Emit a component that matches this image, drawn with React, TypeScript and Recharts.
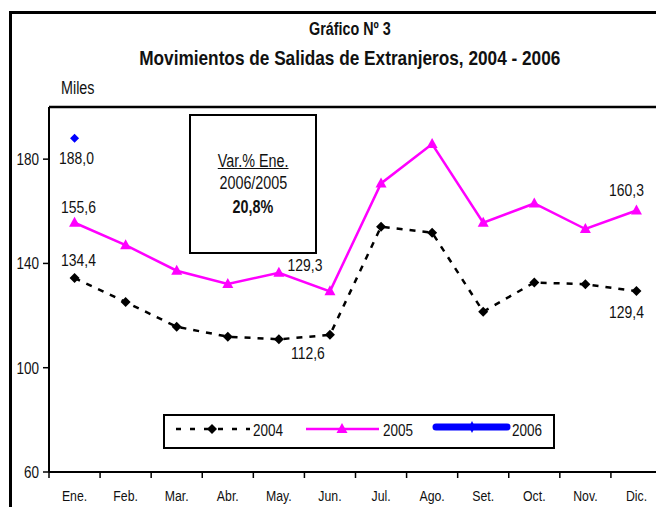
import React from 'react'
import { LineChart, Line, XAxis, YAxis, ReferenceLine } from 'recharts'

// Meses y valores (miles de salidas)
const months = ['Ene.', 'Feb.', 'Mar.', 'Abr.', 'May.', 'Jun.', 'Jul.', 'Ago.', 'Set.', 'Oct.', 'Nov.', 'Dic.']
const values2004 = [134.4, 125.2, 115.7, 111.9, 110.9, 112.6, 154.1, 151.8, 121.5, 132.7, 132.0, 129.4]
const values2005 = [155.6, 147.0, 137.2, 132.1, 136.4, 129.3, 170.7, 185.8, 155.6, 163.0, 153.2, 160.3]
const values2006 = [188.0, null, null, null, null, null, null, null, null, null, null, null]
const yTicks = [60, 100, 140, 180]

// Arial Narrow no está instalada: Liberation Sans comprimida en horizontal
const FONT = "'Liberation Sans', Arial, sans-serif"
const NARROW = 0.82

const data = months.map((m, i) => ({
  month: m,
  '2004': values2004[i],
  '2005': values2005[i],
  '2006': values2006[i],
}))

// desplazamiento de las etiquetas de datos (solo algunos puntos van rotulados)
const labelOffsets: Record<string, Record<number, [number, number]>> = {
  '2004': { 0: [4, -18], 5: [-22, 18], 11: [-10, 21] },
  '2005': { 0: [4, -16], 5: [-25, -26], 11: [-10, -21] },
  '2006': { 0: [2, 20] },
}

const fmt = (v: number) => v.toFixed(1).replace('.', ',')

const NText = ({ x, y, size, anchor = 'middle', bold = false, children }: any) => (
  <text transform={`translate(${x},${y}) scale(${NARROW},1)`} textAnchor={anchor} dy="0.355em"
    fontFamily={FONT} fontSize={size} fontWeight={bold ? 'bold' : 'normal'} fill="#111">
    {children}
  </text>
)

const makeLabel = (key: string) => (props: any) => {
  const off = labelOffsets[key][props.index]
  if (!off || props.value == null) return null
  return (
    <g key={`${key}-l-${props.index}`}>
      <NText x={props.x + off[0]} y={props.y + off[1]} size={17}>{fmt(props.value)}</NText>
    </g>
  )
}

const diamond = (color: string, r: number) => (props: any) => {
  const { cx, cy, index } = props
  if (cx == null || cy == null || props.value == null) return <g key={`d-${color}-${index}`} />
  return <path key={`d-${color}-${index}`} d={`M${cx},${cy - r}L${cx + r},${cy}L${cx},${cy + r}L${cx - r},${cy}Z`} fill={color} />
}

const triangle = (props: any) => {
  const { cx, cy, index } = props
  if (cx == null || cy == null) return <g key={`t-${index}`} />
  return <path key={`t-${index}`} d={`M${cx},${cy - 6}L${cx + 5.5},${cy + 4}L${cx - 5.5},${cy + 4}Z`} fill="#FF00FF" />
}

// ticks del eje X en los límites de cada mes, rótulo al centro
const MonthTick = (props: any) => {
  const { x, y, payload, index } = props
  const half = payload?.offset || 25.5
  return (
    <g>
      <line x1={x - half} x2={x - half} y1={y} y2={y + 6} stroke="#000" strokeWidth={1.5} />
      {index === months.length - 1 && <line x1={x + half} x2={x + half} y1={y} y2={y + 6} stroke="#000" strokeWidth={1.5} />}
      <NText x={x} y={y + 24} size={15}>{payload.value}</NText>
    </g>
  )
}

const ValueTick = (props: any) => (
  <NText x={props.x} y={props.y} size={16.5} anchor="end">{props.payload.value}</NText>
)

// leyenda en recuadro, coordenadas relativas al recuadro
const LegendBox = () => (
  <svg width={392} height={35} style={{ position: 'absolute', left: 163, top: 414 }}>
    <rect x={1} y={1} width={390} height={33} fill="#fff" stroke="#000" strokeWidth={2} />
    <line x1={13} x2={87} y1={15} y2={15} stroke="#000" strokeWidth={2.5} strokeDasharray="5 9" />
    <path d="M49,10L54,15L49,20L44,15Z" fill="#000" />
    <NText x={90} y={16} size={16.5} anchor="start">2004</NText>
    <line x1={143} x2={216} y1={15} y2={15} stroke="#FF00FF" strokeWidth={2.5} />
    <path d="M179,9L184.5,19L173.5,19Z" fill="#FF00FF" />
    <NText x={220} y={16} size={16.5} anchor="start">2005</NText>
    <line x1={273} x2={344} y1={13} y2={13} stroke="#0000FF" strokeWidth={7} strokeLinecap="round" />
    <path d="M309,7L312,13L309,19L306,13Z" fill="#0000FF" />
    <NText x={349} y={16} size={16.5} anchor="start">2006</NText>
  </svg>
)

const hText = (text: string, top: number, size: number, bold: boolean, left?: number) => (
  <div style={{ position: 'absolute', left: left ?? 0, width: left == null ? 700 : undefined, top, textAlign: left == null ? 'center' : 'left',
    fontFamily: FONT, fontWeight: bold ? 'bold' : 'normal', fontSize: size, lineHeight: `${size}px`, color: '#111', whiteSpace: 'nowrap' }}>
    <span style={{ display: 'inline-block', transform: `scaleX(${NARROW})`, transformOrigin: left == null ? 'center' : 'left' }}>{text}</span>
  </div>
)

export default function App() {
  return (
    <div style={{ position: 'absolute', left: 0, top: 0, width: 656, height: 507, overflow: 'hidden', background: '#fff' }}>
      {/* marco exterior */}
      <div style={{ position: 'absolute', left: 9, top: 11, width: 680, height: 520, border: '3px solid #000' }} />

      {hText('Gráfico Nº 3', 21, 17.5, true)}
      {hText('Movimientos de Salidas de Extranjeros, 2004 - 2006', 47, 21, true)}
      {hText('Miles', 80, 17.5, false, 61)}

      <div style={{ position: 'absolute', left: 0, top: 0 }}>
        <LineChart width={700} height={507} data={data} margin={{ top: 107, right: 38, bottom: 0, left: 9 }}>
          <XAxis dataKey="month" scale="band" axisLine={{ stroke: '#000', strokeWidth: 2 }} tickLine={false} tickSize={0} tickMargin={0}
            interval={0} height={35} tick={<MonthTick />} />
          <YAxis domain={[60, 200]} ticks={yTicks} width={40} axisLine={{ stroke: '#000', strokeWidth: 2 }}
            tickLine={{ stroke: '#000', strokeWidth: 1.5 }} tickSize={6} tickMargin={4}
            tick={<ValueTick />} allowDataOverflow />
          <ReferenceLine y={200} stroke="#000" strokeWidth={2.5} />
          <Line dataKey="2004" stroke="#000" strokeWidth={2.5} strokeDasharray="6 7" dot={diamond('#000', 5)} activeDot={false}
            label={makeLabel('2004')} isAnimationActive={false} />
          <Line dataKey="2005" stroke="#FF00FF" strokeWidth={2.5} dot={triangle} activeDot={false}
            label={makeLabel('2005')} isAnimationActive={false} />
          <Line dataKey="2006" stroke="#0000FF" strokeWidth={7} dot={diamond('#0000FF', 4.5)} activeDot={false}
            label={makeLabel('2006')} isAnimationActive={false} />
        </LineChart>
      </div>

      <LegendBox />

      {/* recuadro de variación */}
      <div style={{ position: 'absolute', left: 189, top: 114, width: 124, height: 136, border: '2px solid #000', background: '#fff', fontFamily: FONT, fontSize: 17.5, color: '#111', textAlign: 'center' }}>
        <div style={{ position: 'absolute', left: 0, right: 0, top: 36.5, lineHeight: '17.5px' }}>
          <span style={{ display: 'inline-block', transform: `scaleX(${NARROW})`, textDecoration: 'underline' }}>Var.% Ene.</span>
        </div>
        <div style={{ position: 'absolute', left: 0, right: 0, top: 59, lineHeight: '17.5px' }}>
          <span style={{ display: 'inline-block', transform: `scaleX(${NARROW})` }}>2006/2005</span>
        </div>
        <div style={{ position: 'absolute', left: 0, right: 0, top: 83, lineHeight: '17.5px', fontWeight: 'bold' }}>
          <span style={{ display: 'inline-block', transform: `scaleX(${NARROW})` }}>20,8%</span>
        </div>
      </div>
    </div>
  )
}
